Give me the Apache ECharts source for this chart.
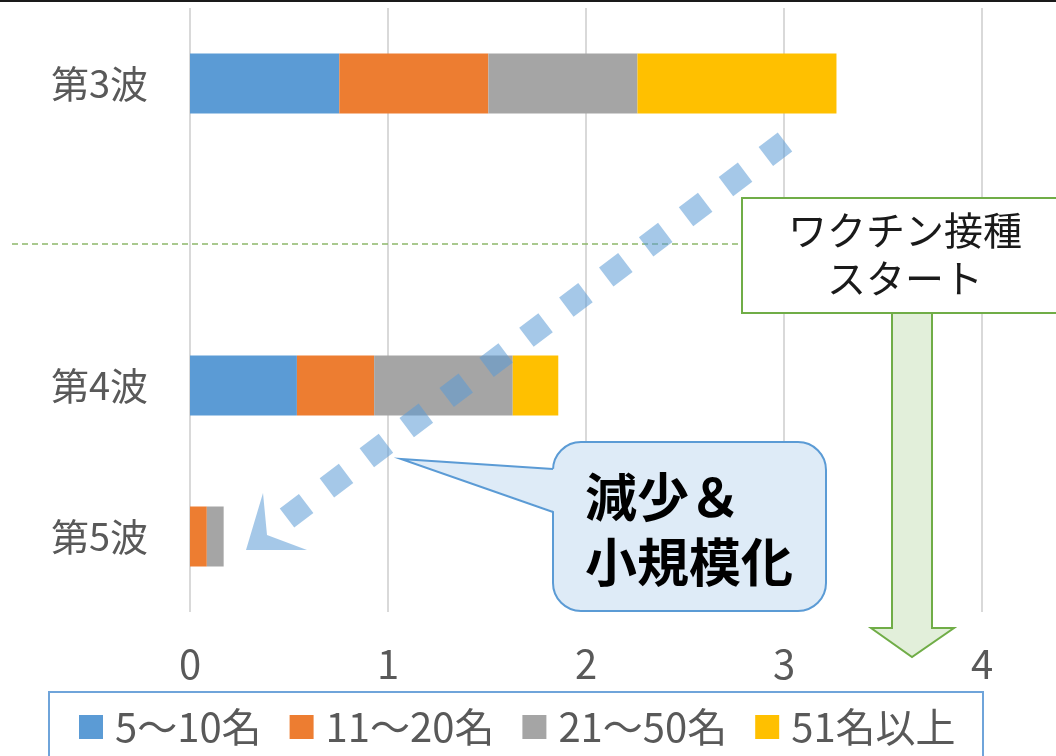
<!DOCTYPE html>
<html>
<head>
<meta charset="utf-8">
<script src="https://cdn.jsdelivr.net/npm/echarts@6/dist/echarts.min.js"></script>
<style>
html,body{margin:0;padding:0;background:#fff;}
#chart{width:1056px;height:756px;}
</style>
</head>
<body>
<div id="chart"></div>
<script>
const categories = ['第3波', '', '第4波', '第5波'];
const seriesNames = ['5〜10名', '11〜20名', '21〜50名', '51名以上'];
const s5to10 = [0.754, '-', 0.54, 0];
const s11to20 = [0.753, '-', 0.39, 0.085];
const s21to50 = [0.753, '-', 0.70, 0.085];
const s51plus = [1.005, '-', 0.23, 0];
const xTicks = [0, 1, 2, 3, 4];
const colors = ['#5B9BD5', '#ED7D31', '#A5A5A5', '#FFC000'];

const font = "'Noto Sans CJK JP', 'Noto Sans', sans-serif";
const chart = echarts.init(document.getElementById('chart'), null, {renderer: 'canvas'});
const values = [s5to10, s11to20, s21to50, s51plus];

const option = {
  animation: false,
  color: colors,
  grid: {left: 190, right: 74, top: 8, bottom: 144, containLabel: false},
  xAxis: {
    type: 'value', min: xTicks[0], max: xTicks[xTicks.length - 1], interval: 1,
    axisLine: {show: false}, axisTick: {show: false},
    splitLine: {lineStyle: {color: '#D9D9D9', width: 2}},
    axisLabel: {fontSize: 40, color: '#595959', fontFamily: font, margin: 32}
  },
  yAxis: {
    type: 'category', data: categories, inverse: true,
    axisLine: {show: false}, axisTick: {show: false},
    axisLabel: {fontSize: 38, color: '#595959', fontFamily: font, margin: 42}
  },
  legend: {
    data: seriesNames, top: 707, left: 79, padding: 0,
    itemWidth: 24, itemHeight: 24, itemGap: 28, icon: 'rect',
    textStyle: {fontSize: 40, color: '#595959', fontFamily: font, padding: [0, 0, 0, 7]}
  },
  series: seriesNames.map((n, i) => ({
    name: n, type: 'bar', stack: 'total', barWidth: 60,
    data: values[i], itemStyle: {color: colors[i]}
  })),
  graphic: [
    {type: 'line', z: 100, shape: {x1: 0, y1: 1, x2: 1056, y2: 1}, style: {stroke: '#1a1a1a', lineWidth: 2}},
    {type: 'line', z: 100, shape: {x1: 12, y1: 244, x2: 742, y2: 244}, style: {stroke: '#8DB86B', lineWidth: 1.5, lineDash: [6, 4]}},
    {type: 'polygon', z: 101, shape: {points: [[892, 313], [932, 313], [932, 628], [954, 628], [912, 657], [871, 628], [892, 628]]},
      style: {fill: '#E2EFDA', stroke: '#70AD47', lineWidth: 2}},
    {type: 'rect', z: 102, shape: {x: 742, y: 198, width: 330, height: 115},
      style: {fill: '#fff', stroke: '#70AD47', lineWidth: 2}},
    {type: 'text', z: 103, x: 905, y: 254,
      style: {text: 'ワクチン接種\nスタート', fontSize: 39, lineHeight: 48, fill: '#1a1a1a', fontFamily: font, align: 'center', verticalAlign: 'middle'}},
    {type: 'line', z: 104, shape: {x1: 785, y1: 142, x2: 287, y2: 518},
      style: {stroke: 'rgba(91,155,213,0.55)', lineWidth: 24, lineDash: [24, 26], lineCap: 'butt'}},
    {type: 'polygon', z: 104, shape: {points: [[246, 550], [263, 493], [267, 535], [307, 550]]},
      style: {fill: 'rgba(91,155,213,0.55)'}},
    {type: 'rect', z: 105, shape: {x: 553, y: 442, width: 273, height: 169, r: 28},
      style: {fill: '#DEEBF7', stroke: '#5B9BD5', lineWidth: 2}},
    {type: 'polygon', z: 106, shape: {points: [[556, 469], [401, 459], [556, 512]]},
      style: {fill: '#DEEBF7'}},
    {type: 'polyline', z: 107, shape: {points: [[553, 469], [401, 459], [553, 512]]},
      style: {fill: null, stroke: '#5B9BD5', lineWidth: 2}},
    {type: 'text', z: 108, x: 585, y: 530,
      style: {text: '減少＆\n小規模化', fontSize: 52, fontWeight: 'bold', lineHeight: 65, fill: '#000', fontFamily: font, align: 'left', verticalAlign: 'middle'}},
    {type: 'rect', z: 100, shape: {x: 49, y: 692, width: 934, height: 80},
      style: {fill: 'none', stroke: '#6FA4DA', lineWidth: 2}}
  ]
};
chart.setOption(option);
</script>
</body>
</html>
